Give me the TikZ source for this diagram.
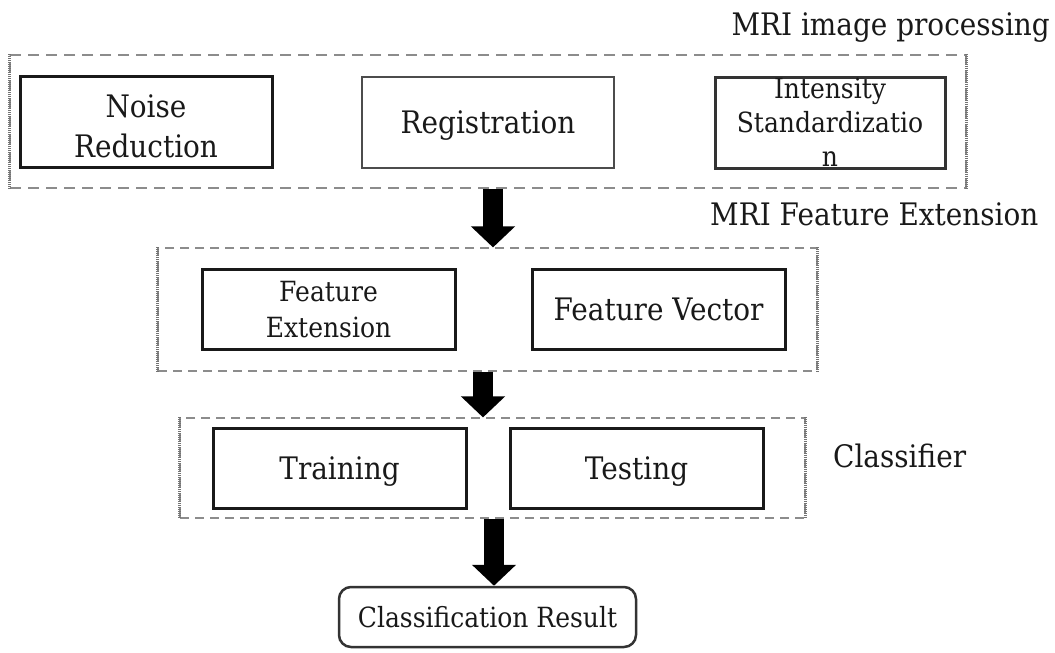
\documentclass[tikz,border=0pt]{standalone}
\usepackage{fontspec}
\setmainfont{DejaVu Serif}[FakeStretch=0.9]
\usetikzlibrary{arrows.meta}
\begin{document}
\begin{tikzpicture}[x=1pt,y=-1pt,
  txt/.style={text=black!90, font=\fontsize{31}{40}\selectfont, align=center, inner sep=0pt},
  stage/.style={rectangle, draw=black!90, line width=3pt, txt, text depth=0pt},
  group/.style={rectangle, draw=black!45, line width=1.2pt, dash pattern=on 11pt off 7pt, inner sep=0pt},
  hatch/.style={draw=black!55, line width=3pt, dash pattern=on 1pt off 1pt},
  blockarrow/.style={line width=20pt, black, -{Triangle[length=21pt,width=43pt]}},
]
\useasboundingbox (0,0) rectangle (1055,653);

% dashed stage groups
\node[group, minimum width=956pt, minimum height=133pt] (g1) at (488,121.5) {};
\node[group, minimum width=659pt, minimum height=123pt, dash pattern=on 9pt off 6pt] (g2) at (487.5,309.5) {};
\node[group, minimum width=625pt, minimum height=100pt, dash pattern=on 9pt off 6pt] (g3) at (492.5,468) {};
\foreach \g in {g1,g2,g3} {
  \draw[hatch] (\g.north west) -- (\g.south west);
  \draw[hatch] (\g.north east) -- (\g.south east);
}

% group captions
\node[txt, anchor=base east] (cap1) at (1050,35) {MRI image processing};
\node[txt, anchor=base west] (cap2) at (710,225) {MRI Feature Extension};
\node[txt, anchor=base west] (cap3) at (833,467) {Classifier};

% image processing steps
\node[stage, minimum width=252pt, minimum height=91pt, text height=71pt] (noise) at (146,121.5) {Noise\\Reduction};
\node[stage, draw=black!70, line width=2.5pt, minimum width=252pt, minimum height=91pt] (reg) at (488,122.5) {Registration};
\node[stage, draw=black!80, minimum width=230pt, minimum height=91pt,
      font=\fontsize{27.8}{34}\selectfont] (inten) at (830,122.5) {Intensity\\Standardizatio\\n};

% feature steps
\node[stage, minimum width=253pt, minimum height=80pt, font=\fontsize{27.8}{36}\selectfont] (fext) at (328.5,309) {Feature\\Extension};
\node[stage, minimum width=253pt, minimum height=80pt] (fvec) at (658.5,309) {Feature Vector};

% classifier steps
\node[stage, minimum width=253pt, minimum height=80pt] (train) at (339.5,468) {Training};
\node[stage, minimum width=253pt, minimum height=80pt] (test) at (636.5,468) {Testing};

% result
\node[stage, draw=black!80, line width=2.5pt, rounded corners=12pt, minimum width=297pt, minimum height=60pt,
      font=\fontsize{27.8}{30}\selectfont] (res) at (487.5,617) {Classification Result};

% block arrows between stages
\coordinate (ax1) at (493,0);
\coordinate (ax2) at (483,0);
\coordinate (ax3) at (494,0);
\draw[blockarrow] (g1.south -| ax1) -- (g2.north -| ax1);
\draw[blockarrow] (g2.south -| ax2) -- (g3.north -| ax2);
\draw[blockarrow] (g3.south -| ax3) -- (res.north -| ax3);
\end{tikzpicture}
\end{document}
